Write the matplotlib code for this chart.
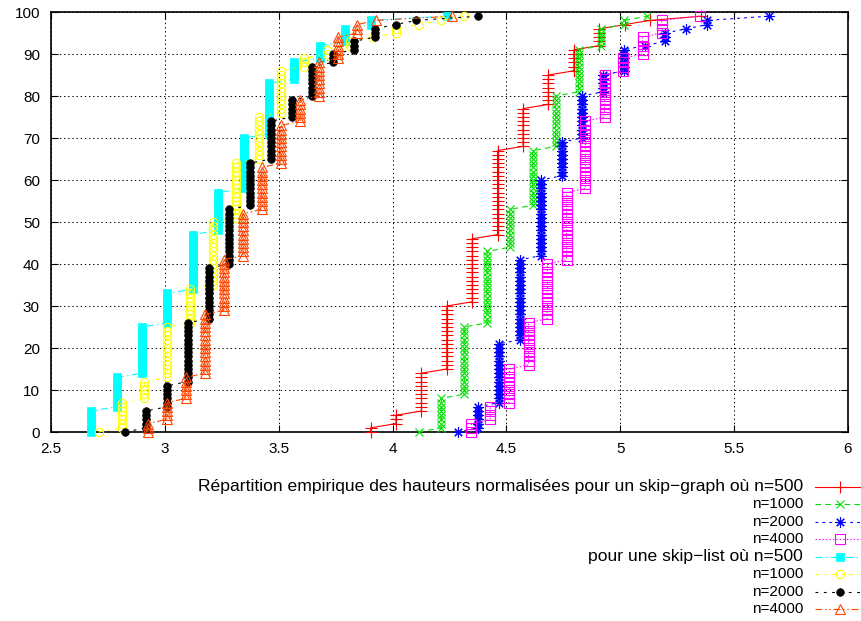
import numpy as np
import matplotlib
matplotlib.use("Agg")
import matplotlib.pyplot as plt
from matplotlib.lines import Line2D

plt.rcParams['font.family'] = ['Liberation Sans', 'DejaVu Sans']
plt.rcParams['lines.scale_dashes'] = False

# normalised heights (x) and how many of the 100 samples fall on each one
# skip-graph
sg500_x = [3.904, 4.015, 4.127, 4.238, 4.350, 4.461, 4.573, 4.684, 4.796, 4.908, 5.019, 5.131, 5.354]
sg500_n = [2, 3, 10, 16, 16, 21, 10, 8, 6, 5, 1, 1, 1]
sg1000_x = [4.114, 4.214, 4.315, 4.415, 4.515, 4.616, 4.716, 4.817, 4.917, 5.017, 5.118]
sg1000_n = [1, 8, 17, 18, 10, 14, 13, 11, 5, 2, 1]
sg2000_x = [4.286, 4.377, 4.468, 4.560, 4.651, 4.742, 4.833, 4.924, 5.016, 5.107, 5.198, 5.289, 5.380, 5.654]
sg2000_n = [1, 6, 15, 20, 19, 9, 11, 5, 6, 1, 3, 1, 2, 1]
sg4000_x = [4.346, 4.429, 4.513, 4.597, 4.680, 4.764, 4.847, 4.931, 5.014, 5.098, 5.181, 5.349]
sg4000_n = [3, 4, 9, 11, 14, 17, 17, 11, 4, 5, 4, 1]
# skip-list
sl500_x = [2.677, 2.788, 2.900, 3.011, 3.123, 3.235, 3.346, 3.458, 3.569, 3.681, 3.792, 3.904, 4.238]
sl500_n = [6, 8, 12, 8, 14, 10, 13, 13, 5, 4, 4, 2, 1]
sl1000_x = [2.709, 2.810, 2.910, 3.010, 3.111, 3.211, 3.311, 3.412, 3.512, 3.612, 3.713, 3.813,
            3.913, 4.014, 4.114, 4.214, 4.315]
sl1000_n = [1, 7, 5, 13, 9, 16, 14, 11, 11, 3, 2, 2, 1, 2, 1, 1, 1]
sl2000_x = [2.827, 2.918, 3.009, 3.101, 3.192, 3.283, 3.374, 3.465, 3.557, 3.648, 3.739, 3.830,
            3.921, 4.013, 4.104, 4.377]
sl2000_n = [1, 5, 6, 15, 13, 14, 11, 10, 5, 8, 3, 3, 3, 1, 1, 1]
sl4000_x = [2.925, 3.009, 3.092, 3.176, 3.259, 3.343, 3.426, 3.510, 3.594, 3.677, 3.761, 3.844,
            3.928, 4.262]
sl4000_n = [3, 5, 6, 15, 13, 11, 11, 10, 6, 9, 6, 3, 1, 1]

labels = ["Répartition empirique des hauteurs normalisées pour un skip\u2212graph où n=500",
          "n=1000", "n=2000", "n=4000",
          "pour une skip\u2212list où n=500",
          "n=1000", "n=2000", "n=4000"]

data = [(sg500_x, sg500_n), (sg1000_x, sg1000_n), (sg2000_x, sg2000_n), (sg4000_x, sg4000_n),
        (sl500_x, sl500_n), (sl1000_x, sl1000_n), (sl2000_x, sl2000_n), (sl4000_x, sl4000_n)]

styles = [
    dict(color='#ff0000', ls='-', marker='+', ms=8.5, mew=0.8),
    dict(color='#00e000', ls=(0, (4, 3)), marker='x', ms=6, mew=0.8),
    dict(color='#0000ff', ls=(0, (2, 3)), marker=(8, 2, 0), ms=7.5, mew=0.8),
    dict(color='#ff00ff', ls=(0, (1, 1.5)), marker='s', ms=7, mew=0.8, mfc='none'),
    dict(color='#00ffff', ls=(0, (5, 2.5, 1, 2.5)), marker='s', ms=5.8, mew=0.5),
    dict(color='#ffff00', ls=(0, (3, 4, 1, 4)), marker='o', ms=6, mew=0.8, mfc='none'),
    dict(color='#000000', ls=(0, (2, 4)), marker='o', ms=5.5, mew=0.5),
    dict(color='#ff4500', ls=(0, (5, 2, 1, 2, 1, 2)), marker='^', ms=6.5, mew=0.8, mfc='none'),
]

fig = plt.figure(figsize=(8.61, 6.21), dpi=100)
ax = fig.add_axes([51 / 861, 1 - 432 / 621, 797 / 861, 420 / 621])

for (xs, ns), st in zip(data, styles):
    x = np.repeat(xs, ns)
    y = np.arange(len(x))
    ax.plot(x, y, lw=0.8, clip_on=False, zorder=3, **st)

ax.set_xlim(2.5, 6)
ax.set_ylim(0, 100)
ax.set_xticks([2.5, 3, 3.5, 4, 4.5, 5, 5.5, 6])
ax.set_xticklabels(['2.5', '3', '3.5', '4', '4.5', '5', '5.5', '6'])
ax.set_yticks(range(0, 101, 10))
ax.grid(True, color='black', ls=(0, (1, 2)), lw=0.7)
ax.set_axisbelow(True)
ax.tick_params(direction='in', length=5, width=0.8, top=True, right=True, labelsize=11)
ax.tick_params(axis='y', pad=8)
ax.tick_params(axis='x', pad=7)
for sp in ax.spines.values():
    sp.set_linewidth(1.2)

# key below the plot, right aligned (the long labels render wider in the original)
row_top = 486.7
row_step = 17.5
for i, (lab, st) in enumerate(zip(labels, styles)):
    yf = 1 - (row_top + i * row_step) / 621
    fs = 12.6 if len(lab) > 10 else 11
    fig.text(803 / 861, yf, lab, ha='right', va='center', fontsize=fs)
    fig.add_artist(Line2D([815 / 861, 840 / 861, 865 / 861], [yf, yf, yf], transform=fig.transFigure,
                          lw=0.8, markevery=[1], **st))

fig.savefig("out.png", dpi=100)
